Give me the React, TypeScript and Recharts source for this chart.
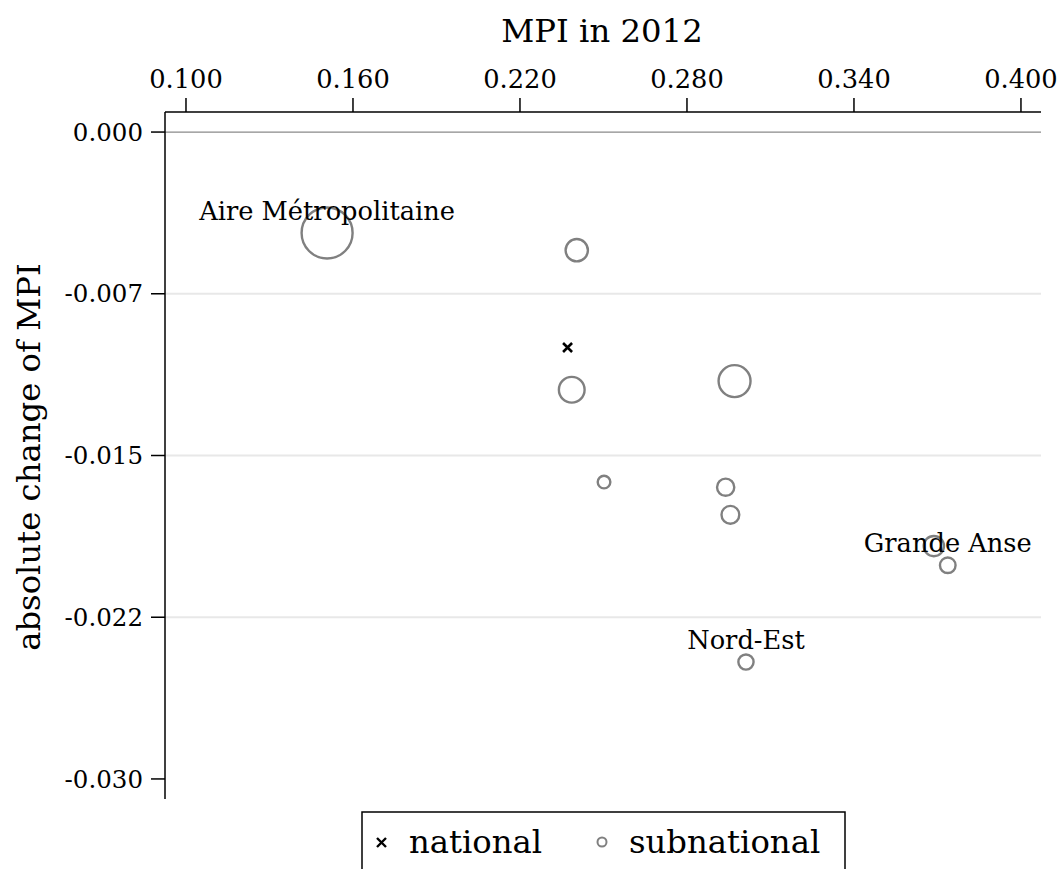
import React from 'react';
import { ScatterChart, Scatter, XAxis, YAxis, ZAxis, ReferenceLine, Customized } from 'recharts';

// ---- data ----
const regionNames = ['Aire Métropolitaine', 'r2', 'r3', 'r4', 'r5', 'r6', 'r7', 'Grande Anse', 'r9', 'Nord-Est'];
const regionLabels = ['Aire Métropolitaine', '', '', '', '', '', '', '', 'Grande Anse', 'Nord-Est'];
const mpi2012 = [0.1507, 0.2404, 0.2386, 0.2971, 0.2502, 0.2939, 0.2956, 0.3687, 0.3737, 0.3012];
const mpiChange = [-0.00468, -0.00548, -0.01195, -0.01155, -0.01623, -0.01647, -0.01775, -0.0192, -0.02009, -0.02458];
const popWeight = [38.0, 8.0, 10.4, 15.6, 2.9, 5.0, 5.3, 6.7, 4.2, 4.0];

const nationalMpi = [0.2371];
const nationalChange = [-0.00999];

const xTicks = [0.1, 0.16, 0.22, 0.28, 0.34, 0.4];
const yTicks = [0, -0.0075, -0.015, -0.0225, -0.03];
const yTickLabels = ['0.000', '-0.007', '-0.015', '-0.022', '-0.030'];
const gridValues = [-0.0075, -0.015, -0.0225];
const seriesNames = ['national', 'subnational'];

const subData = mpi2012.map((x, i) => ({
  name: regionNames[i],
  label: regionLabels[i],
  x,
  y: mpiChange[i],
  weight: popWeight[i],
}));
const natData = nationalMpi.map((x, i) => ({ x, y: nationalChange[i], weight: 1 }));

const FONT = 'DejaVu Serif';
const GRAY = '#808080';

const CircleShape = (props: any) => {
  const { cx, cy, width, payload } = props;
  const r = Math.max(width / 2 - 1, 2);
  return (
    <g>
      <circle cx={cx} cy={cy} r={r} fill="none" stroke={GRAY} strokeWidth={2.4} />
      {payload.label ? (
        <text x={cx} y={cy - 13} textAnchor="middle" fontFamily={FONT} fontSize={25.7} fill="#000">
          {payload.label}
        </text>
      ) : null}
    </g>
  );
};

const CrossShape = (props: any) => {
  const { cx, cy } = props;
  const h = 4.5;
  return (
    <path
      d={`M${cx - h},${cy - h}L${cx + h},${cy + h}M${cx - h},${cy + h}L${cx + h},${cy - h}`}
      stroke="#000"
      strokeWidth={2.6}
      fill="none"
    />
  );
};

const Titles = () => (
  <g fontFamily={FONT} fill="#000">
    <text x={602} y={42} textAnchor="middle" fontSize={32.3}>MPI in 2012</text>
    <text x={40} y={457} textAnchor="middle" fontSize={32.3} transform="rotate(-90 40 457)">
      absolute change of MPI
    </text>
    <g>
      <rect x={362} y={812} width={483} height={80} fill="#fff" stroke="#000" strokeWidth={1.5} />
      <path d="M377,838L386,847M377,847L386,838" stroke="#000" strokeWidth={2.4} />
      <text x={409} y={853} fontSize={32.3}>{seriesNames[0]}</text>
      <circle cx={602} cy={842} r={4.5} fill="none" stroke={GRAY} strokeWidth={2} />
      <text x={629} y={853} fontSize={32.3}>{seriesNames[1]}</text>
    </g>
  </g>
);

export default function App() {
  return (
    <div style={{ position: 'fixed', left: 0, top: 0, width: 1060, height: 869, overflow: 'hidden', background: '#fff' }}>
      <ScatterChart
        width={1060}
        height={900}
        margin={{ top: 111, left: 164, right: 19, bottom: 101 }}
        style={{ fontFamily: FONT }}
      >
        {gridValues.map((v) => (
          <ReferenceLine key={v} y={v} stroke="#e8e8e8" strokeWidth={2} />
        ))}
        <ReferenceLine y={0} stroke="#8a8a8a" strokeWidth={1.2} />
        <XAxis
          type="number"
          dataKey="x"
          orientation="top"
          height={1}
          domain={[0.09246, 0.4072]}
          ticks={xTicks}
          tickFormatter={(v: number) => v.toFixed(3)}
          tickSize={14}
          tickMargin={10}
          allowDataOverflow
          stroke="#000"
          strokeWidth={1.5}
          tick={{ fill: '#000', fontSize: 25.7, fontFamily: FONT }}
          tickLine={{ stroke: '#000', strokeWidth: 1.5 }}
        />
        <YAxis
          type="number"
          dataKey="y"
          width={1}
          domain={[-0.03093, 0.00093]}
          ticks={yTicks}
          tickFormatter={(v: number) => yTickLabels[yTicks.indexOf(v)] ?? v.toFixed(3)}
          tickSize={14}
          tickMargin={8}
          allowDataOverflow
          stroke="#000"
          strokeWidth={1.5}
          tick={{ fill: '#000', fontSize: 24.5, fontFamily: FONT }}
          tickLine={{ stroke: '#000', strokeWidth: 1.5 }}
        />
        <ZAxis type="number" dataKey="weight" domain={[0, 38]} range={[0, Math.PI * 26.5 * 26.5]} />
        <Scatter name={seriesNames[1]} data={subData} shape={<CircleShape />} isAnimationActive={false} />
        <Scatter name={seriesNames[0]} data={natData} shape={<CrossShape />} isAnimationActive={false} />
        <Customized component={Titles} />
      </ScatterChart>
    </div>
  );
}
